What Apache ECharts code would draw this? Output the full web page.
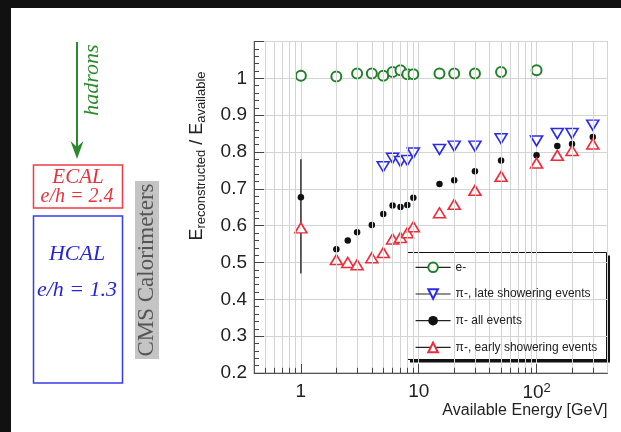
<!DOCTYPE html>
<html>
<head>
<meta charset="utf-8">
<script src="https://cdn.jsdelivr.net/npm/echarts@6/dist/echarts.min.js"></script>
<style>
  html, body { margin: 0; padding: 0; background: #fff; }
  #chart { width: 621px; height: 432px; }
</style>
</head>
<body>
<div id="chart"></div>
<script>
// Beam energies [GeV] and response E_reco / E_avail per sample
const energyElectron = [1, 2, 3, 4, 5, 6, 7, 8, 9, 15, 20, 30, 50, 100];
const respElectron   = [1.007, 1.005, 1.013, 1.013, 1.007, 1.017, 1.022, 1.011, 1.011, 1.013, 1.013, 1.013, 1.017, 1.022];

const energyLate = [5, 6, 7, 8, 9, 15, 20, 30, 50, 100, 150, 200, 300];
const respLate   = [0.760, 0.783, 0.774, 0.777, 0.797, 0.807, 0.816, 0.816, 0.836, 0.830, 0.850, 0.850, 0.873];

const energyAll = [1, 2, 2.5, 3, 4, 5, 6, 7, 8, 9, 15, 20, 30, 50, 100, 150, 200, 300];
const respAll   = [0.677, 0.536, 0.560, 0.582, 0.602, 0.632, 0.655, 0.651, 0.656, 0.676, 0.713, 0.723, 0.748, 0.777, 0.791, 0.816, 0.822, 0.841];

const energyEarly = [1, 2, 2.5, 3, 4, 5, 6, 7, 8, 9, 15, 20, 30, 50, 100, 150, 200, 300];
const respEarly   = [0.594, 0.508, 0.500, 0.494, 0.513, 0.527, 0.564, 0.568, 0.581, 0.597, 0.635, 0.658, 0.696, 0.734, 0.770, 0.791, 0.804, 0.822];

// Uncertainty band of the 1 GeV pion point
const errorBarEnergy = 1;
const errorBarRange  = [0.47, 0.78];

// Axis ranges and labels
const xRange = [0.4, 400];
const yRange = [0.2, 1.1];
const xDecades = [1, 10, 100];
const xDecadeLabels = ['1', '10', '{b|10}{s|2}'];
const xMinorValues = [0.5, 0.6, 0.7, 0.8, 0.9, 2, 3, 4, 5, 6, 7, 8, 9,
                      20, 30, 40, 50, 60, 70, 80, 90, 200, 300];

const seriesNames = ['e-', 'π-, late showering events', 'π- all events', 'π-, early showering events'];

const GREEN = '#23802a', BLUE = '#2b2bea', RED = '#ec2d3a', BLACK = '#111';
const SANS = 'Liberation Sans, Arial, sans-serif';
const SERIF = 'Liberation Serif, Times New Roman, serif';
const minorTickLen = 0.014;

const pairs = (xs, ys) => xs.map((x, i) => [x, ys[i]]);

const chart = echarts.init(document.getElementById('chart'), null, { renderer: 'canvas' });

chart.setOption({
  animation: false,
  backgroundColor: '#fff',
  grid: {
    left: 254, right: 13.5, top: 41.5, bottom: 59,
    show: true, borderColor: '#9a9a9a', borderWidth: 1
  },
  xAxis: {
    type: 'log', logBase: 10, min: xRange[0], max: xRange[1],
    axisLine: { show: true, lineStyle: { color: '#555', width: 1 } },
    axisTick: { show: true, inside: true, length: 9, lineStyle: { color: '#444' } },
    splitLine: { show: true, lineStyle: { color: '#d4d4d4', width: 1 } },
    axisLabel: {
      margin: 9, fontSize: 19, color: '#222', fontFamily: SANS,
      showMinLabel: false, showMaxLabel: false,
      formatter: v => {
        const i = xDecades.findIndex(d => Math.abs(Math.log10(v) - Math.log10(d)) < 1e-6);
        return i < 0 ? '' : xDecadeLabels[i];
      },
      rich: {
        b: { fontSize: 19, lineHeight: 22, fontFamily: SANS, color: '#222' },
        s: { fontSize: 13, lineHeight: 10, verticalAlign: 'top', fontFamily: SANS, color: '#222' }
      }
    },
    name: 'Available Energy [GeV]',
    nameLocation: 'end', nameGap: 0,
    nameTextStyle: {
      fontSize: 16, color: '#222', fontFamily: SANS,
      align: 'right', verticalAlign: 'top', padding: [30, 0, 0, 0]
    }
  },
  yAxis: {
    type: 'value', min: yRange[0], max: yRange[1], interval: 0.1,
    axisLine: { show: true, lineStyle: { color: '#555', width: 1 } },
    axisTick: { show: true, inside: true, length: 10, lineStyle: { color: '#444' } },
    minorTick: { show: true, splitNumber: 5, length: 5, lineStyle: { color: '#444' } },
    splitLine: { show: true, lineStyle: { color: '#d4d4d4', width: 1 } },
    axisLabel: {
      margin: 7, fontSize: 19, color: '#222', fontFamily: SANS,
      showMaxLabel: false,
      formatter: v => String(Math.round(v * 10) / 10)
    }
  },
  legend: {
    orient: 'vertical', left: 415, top: 261.3, z: 100,
    data: seriesNames,
    itemWidth: 35, itemHeight: 12, itemGap: 14.7,
    padding: 0,
    backgroundColor: 'transparent', borderWidth: 0,
    textStyle: { fontSize: 12, color: '#222', fontFamily: SANS },
    lineStyle: { color: '#222', width: 1.2, opacity: 1 },
    selectedMode: false
  },
  series: [
    {
      // light vertical grid at intermediate values, plus short bottom ticks
      type: 'line', data: [], silent: true, z: 1,
      markLine: {
        silent: true, symbol: 'none', animation: false,
        label: { show: false },
        lineStyle: { color: '#d4d4d4', width: 1, type: 'solid' },
        data: xMinorValues.map(v => ({ xAxis: v }))
          .concat(xMinorValues.map(v => [
            { coord: [v, yRange[0]], lineStyle: { color: '#444', width: 1 } },
            { coord: [v, yRange[0] + minorTickLen] }
          ]))
      }
    },
    {
      type: 'line', data: pairs([errorBarEnergy, errorBarEnergy], errorBarRange),
      symbol: 'none', silent: true, z: 2,
      lineStyle: { color: '#333', width: 1.5 }
    },
    {
      name: seriesNames[0], type: 'line', z: 2,
      data: pairs(energyElectron, respElectron),
      symbol: 'circle', symbolSize: 10,
      lineStyle: { opacity: 0 },
      itemStyle: { color: '#fff', borderColor: GREEN, borderWidth: 2 }
    },
    {
      name: seriesNames[1], type: 'line', z: 2,
      data: pairs(energyLate, respLate),
      symbol: 'triangle', symbolSize: [12, 10], symbolRotate: 180,
      lineStyle: { opacity: 0 },
      itemStyle: { color: '#fff', borderColor: BLUE, borderWidth: 1.6 }
    },
    {
      name: seriesNames[2], type: 'line', z: 2,
      data: pairs(energyAll, respAll),
      symbol: 'circle', symbolSize: 6.5,
      lineStyle: { opacity: 0 },
      itemStyle: { color: BLACK, borderWidth: 0 }
    },
    {
      name: seriesNames[3], type: 'line', z: 2,
      data: pairs(energyEarly, respEarly),
      symbol: 'triangle', symbolSize: [12, 10],
      lineStyle: { opacity: 0 },
      itemStyle: { color: '#fff', borderColor: RED, borderWidth: 1.6 }
    }
  ],
  graphic: {
    z: 50,
    elements: [
      // legend frame with drop shadow
      {
        type: 'rect', silent: true,
        shape: { x: 410, y: 255.5, width: 200, height: 107 },
        style: { fill: '#111' }
      },
      {
        type: 'rect', silent: true,
        shape: { x: 407.5, y: 252.5, width: 199, height: 107 },
        style: { fill: '#fff', stroke: '#111', lineWidth: 1 }
      },
      // y-axis title
      {
        type: 'text', x: 197, y: 156, rotation: Math.PI / 2, silent: true,
        style: {
          text: '{a|E}{b|reconstructed}{a| / E}{b|available}',
          align: 'center', verticalAlign: 'middle',
          rich: {
            a: { fontSize: 18, lineHeight: 21, fontFamily: SANS, fill: '#222' },
            b: { fontSize: 13, lineHeight: 8, verticalAlign: 'bottom', fontFamily: SANS, fill: '#222' }
          }
        }
      },
      // detector sketch: incoming hadrons
      {
        type: 'line', silent: true,
        shape: { x1: 77, y1: 42, x2: 77, y2: 150 },
        style: { stroke: '#2b8a2b', lineWidth: 2 }
      },
      {
        type: 'polygon', silent: true,
        shape: { points: [[77, 159], [70.5, 141], [77, 147], [83.5, 141]] },
        style: { fill: '#2b8a2b' }
      },
      {
        type: 'text', x: 92, y: 80, rotation: Math.PI / 2, silent: true,
        style: {
          text: 'hadrons', align: 'center', verticalAlign: 'middle',
          font: 'italic 22px ' + SERIF, fill: '#2b8a2b'
        }
      },
      // ECAL block
      {
        type: 'rect', silent: true,
        shape: { x: 33.5, y: 165, width: 89, height: 43 },
        style: { fill: '#fff', stroke: '#ee3b45', lineWidth: 1.5 }
      },
      {
        type: 'text', x: 78, y: 177, silent: true,
        style: { text: 'ECAL', align: 'center', verticalAlign: 'middle', font: 'italic 21px ' + SERIF, fill: '#e8323e' }
      },
      {
        type: 'text', x: 77, y: 197, silent: true,
        style: { text: 'e/h = 2.4', align: 'center', verticalAlign: 'middle', font: 'italic 20px ' + SERIF, fill: '#e8323e' }
      },
      // HCAL block
      {
        type: 'rect', silent: true,
        shape: { x: 33.5, y: 216, width: 89, height: 167 },
        style: { fill: '#fff', stroke: '#3a3aee', lineWidth: 1.5 }
      },
      {
        type: 'text', x: 77, y: 254, silent: true,
        style: { text: 'HCAL', align: 'center', verticalAlign: 'middle', font: 'italic 22px ' + SERIF, fill: '#2626d8' }
      },
      {
        type: 'text', x: 77, y: 290, silent: true,
        style: { text: 'e/h = 1.3', align: 'center', verticalAlign: 'middle', font: 'italic 22px ' + SERIF, fill: '#2626d8' }
      },
      // side tag
      {
        type: 'rect', silent: true,
        shape: { x: 135, y: 181, width: 24, height: 178 },
        style: { fill: '#c4c4c4' }
      },
      {
        type: 'text', x: 147, y: 270, rotation: Math.PI / 2, silent: true,
        style: { text: 'CMS Calorimeters', align: 'center', verticalAlign: 'middle', font: '23px ' + SERIF, fill: '#555' }
      },
      // dark frame strips
      { type: 'rect', silent: true, shape: { x: 0, y: 0, width: 11, height: 432 }, style: { fill: '#111' } },
      { type: 'rect', silent: true, shape: { x: 0, y: 0, width: 621, height: 8 }, style: { fill: '#111' } }
    ]
  }
});
</script>
</body>
</html>
